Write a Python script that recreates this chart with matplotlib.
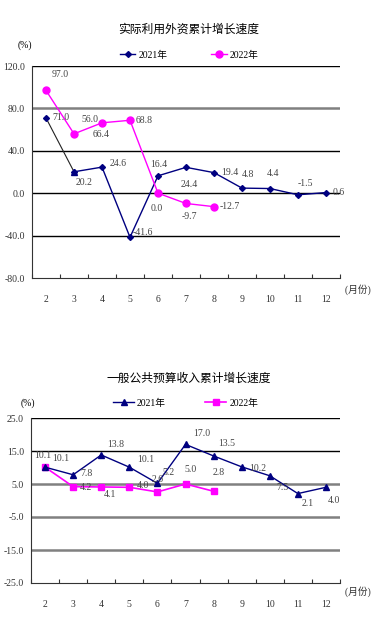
import numpy as np
import matplotlib
matplotlib.use("Agg")
import matplotlib.pyplot as plt

plt.rcParams['font.family'] = ['Liberation Serif', 'Noto Sans CJK SC', 'DejaVu Sans']

# ---- data ----
months = ['2', '3', '4', '5', '6', '7', '8', '9', '10', '11', '12']

fdi_2021 = [71.0, 20.2, 24.6, -41.6, 16.4, 24.4, 19.4, 4.8, 4.4, -1.5, 0.6]
fdi_2022 = [97.0, 56.0, 66.4, 68.8, 0.0, -9.7, -12.7]

rev_2021 = [10.1, 7.8, 13.8, 10.1, 5.2, 17.0, 13.5, 10.2, 7.5, 2.1, 4.0]
rev_2022 = [10.1, 4.2, 4.1, 4.0, 2.6, 5.0, 2.8]

fdi_ticks = [120, 80, 40, 0, -40, -80]
rev_ticks = [25, 15, 5, -5, -15, -25]

# label offsets (pixels) + alignment, per point
fdi_21_off = [(6, 0, 'left'), (2, -11, 'left'), (8, 4, 'left'), (3, 5, 'left'),
              (1, 11, 'center'), (3, -17, 'center'), (7, 0, 'left'), (6, 14, 'center'),
              (3, 15, 'center'), (7, 11, 'center'), (7, 0, 'left')]
fdi_22_off = [(14, 16, 'center'), (16, 14, 'center'), (-1, -12, 'center'), (6, 0, 'left'),
              (-1, -15, 'center'), (3, -13, 'center'), (6, 0, 'left')]
rev_21_off = [(7, 9, 'left'), (7, 1, 'left'), (6, 10, 'left'), (8, 8, 'left'),
              (5, 11, 'left'), (8, 11, 'left'), (5, 12, 'left'), (8, -2, 'left'),
              (13, -12, 'center'), (10, -10, 'center'), (8, -13, 'center')]
rev_22_off = [(-2, 12, 'center'), (7, -1, 'left'), (9, -8, 'center'), (7, 2, 'left'),
              (0, 12, 'center'), (5, 15, 'center'), (5, 19, 'center')]

NAVY = '#000080'
MAG = '#FF00FF'

fig = plt.figure(figsize=(3.78, 6.26), dpi=100)


def setup_axes(ax, ticks, grid_styles):
    x = np.arange(len(months))
    ax.set_xlim(-0.5, len(months) - 0.5)
    ax.set_ylim(ticks[-1], ticks[0])
    ax.set_yticks(ticks)
    ax.set_yticklabels(['%.1f' % t for t in ticks], fontsize=7, color='#333333')
    ax.tick_params(axis='y', length=0, pad=5)
    # category boundaries as ticks, labels on minor ticks
    ax.set_xticks(np.arange(len(months) + 1) - 0.5)
    ax.set_xticklabels([])
    ax.set_xticks(x, minor=True)
    ax.set_xticklabels(months, minor=True, fontsize=7, color='#333333')
    ax.tick_params(axis='x', which='major', direction='in', length=3, color='#333333')
    ax.tick_params(axis='x', which='minor', length=0, pad=12)
    for s in ['top', 'right']:
        ax.spines[s].set_visible(False)
    ax.spines['left'].set_color('#333333')
    ax.spines['bottom'].set_color('#333333')
    for val, col, lw in grid_styles:
        ax.axhline(val, color=col, lw=lw, zorder=1)
    ax.text(1.0, -0.055, '  (月份)', transform=ax.transAxes, fontsize=7,
            ha='left', va='center', color='#333333')
    return x


def add_labels(ax, xs, vals, offs, color='#444444'):
    for xi, v, (dx, dy, ha) in zip(xs, vals, offs):
        ax.annotate('%.1f' % v, (xi, v), xytext=(dx, dy), textcoords='offset pixels',
                    ha=ha, va='center', fontsize=7, color=color, zorder=6)


# ---- chart 1 ----
ax1 = fig.add_axes([32 / 378, 1 - 278 / 626, 308 / 378, 212 / 626])
g1 = [(120, 'black', 1.0), (80, '#808080', 1.8), (40, 'black', 1.0),
      (0, 'black', 1.0), (-40, 'black', 1.0)]
x = setup_axes(ax1, fdi_ticks, g1)
ax1.plot(x[:2], fdi_2021[:2], color='#222222', lw=0.8, zorder=3)
ax1.plot(x[1:], fdi_2021[1:], color=NAVY, lw=1.0, marker='D', ms=3, zorder=3)
ax1.plot(x[1], fdi_2021[1], color=NAVY, marker='^', ms=5, zorder=4)
ax1.plot(x[0], fdi_2021[0], color=NAVY, marker='D', ms=3, zorder=4)
ax1.plot(x[:len(fdi_2022)], fdi_2022, color=MAG, lw=1.0, marker='o', ms=5, zorder=4)
add_labels(ax1, x, fdi_2021, fdi_21_off)
add_labels(ax1, x, fdi_2022, fdi_22_off)
h1 = ax1.plot([], [], color=NAVY, lw=1.0, marker='D', ms=3)[0]
h2 = ax1.plot([], [], color=MAG, lw=1.0, marker='o', ms=5)[0]
ax1.legend([h1, h2], ['2021年', '2022年'], loc='center', bbox_to_anchor=(0.51, 1.052),
           ncol=2, frameon=False, fontsize=7, handlelength=1.6, columnspacing=4.5,
           handletextpad=0.3)
fig.text(0.5, 1 - 29 / 626, '实际利用外资累计增长速度', ha='center', va='center',
         fontsize=8.5, family=['Noto Sans CJK SC'])
fig.text(18 / 378, 1 - 45 / 626, '(%)', ha='left', va='center', fontsize=7)

# ---- chart 2 ----
ax2 = fig.add_axes([31 / 378, 1 - 583 / 626, 309 / 378, 165 / 626])
g2 = [(25, 'black', 1.0), (15, 'black', 1.0), (5, '#808080', 1.8),
      (-5, '#808080', 1.8), (-15, '#808080', 1.8)]
x = setup_axes(ax2, rev_ticks, g2)
ax2.plot(x[:len(rev_2022)], rev_2022, color=MAG, lw=1.2, marker='s', ms=4.5, zorder=3)
ax2.plot(x, rev_2021, color=NAVY, lw=1.0, marker='^', ms=5, zorder=4)
add_labels(ax2, x, rev_2022, rev_22_off)
add_labels(ax2, x, rev_2021, rev_21_off)
h3 = ax2.plot([], [], color=NAVY, lw=1.0, marker='^', ms=5)[0]
h4 = ax2.plot([], [], color=MAG, lw=1.2, marker='s', ms=4.5)[0]
ax2.legend([h3, h4], ['2021年', '2022年'], loc='center', bbox_to_anchor=(0.50, 1.09),
           ncol=2, frameon=False, fontsize=7, handlelength=2.2, columnspacing=4.0,
           handletextpad=0.3)
fig.text(0.5, 1 - 378 / 626, '一般公共预算收入累计增长速度', ha='center', va='center',
         fontsize=8.5, family=['Noto Sans CJK SC'])
fig.text(21 / 378, 1 - 403 / 626, '(%)', ha='left', va='center', fontsize=7)

fig.savefig('out.png', dpi=100)
